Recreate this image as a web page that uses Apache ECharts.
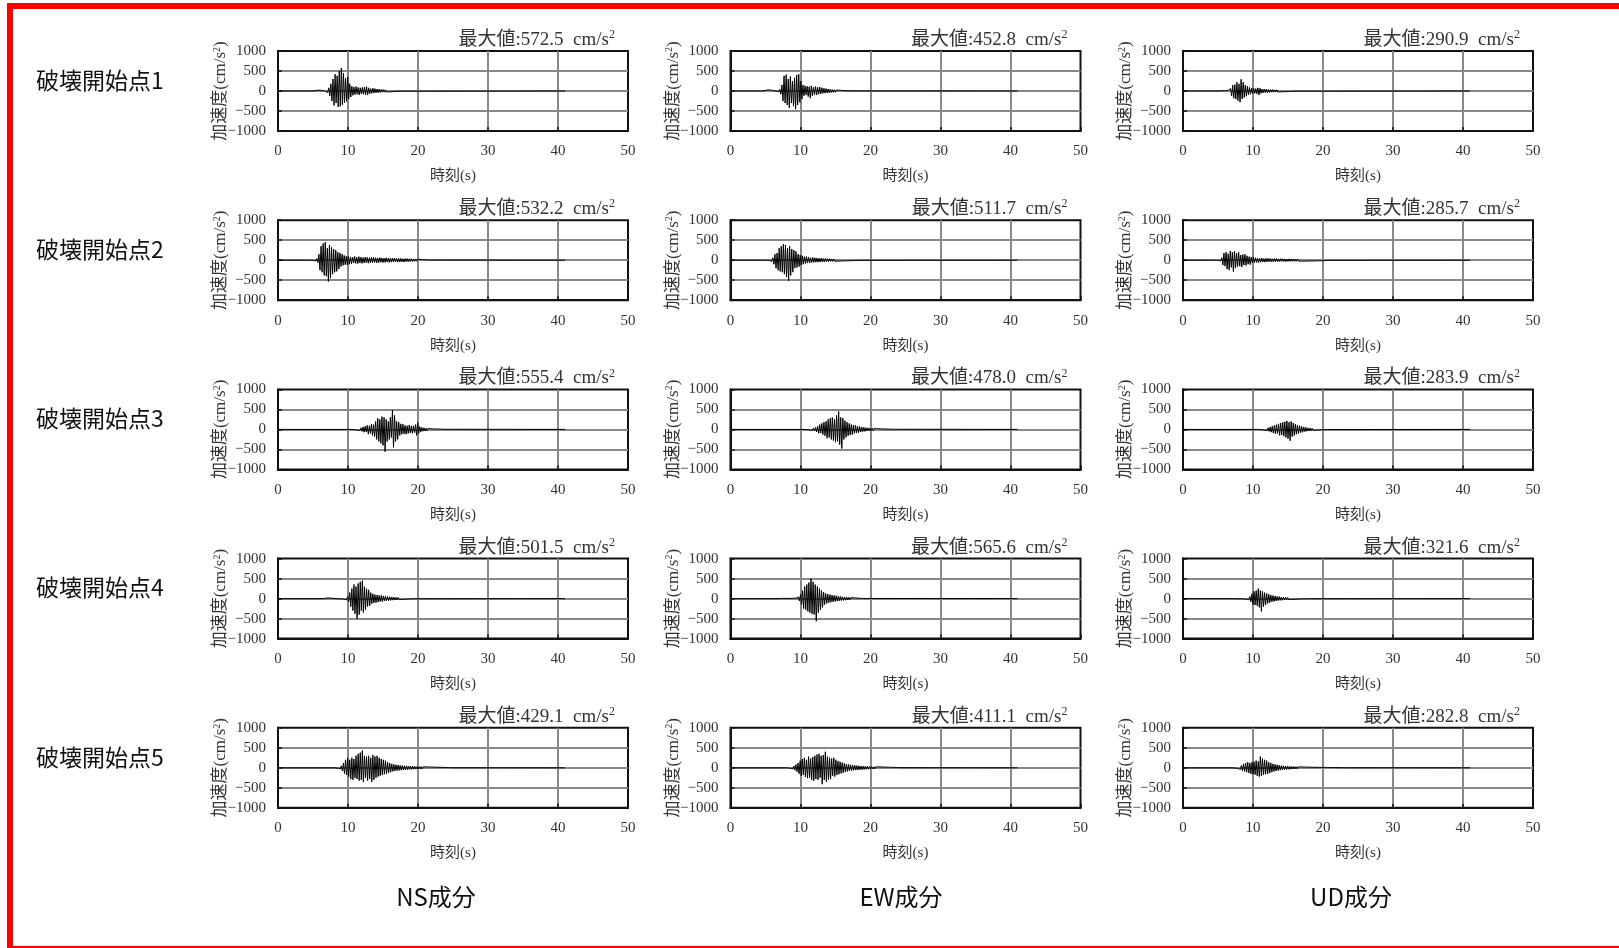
<!DOCTYPE html>
<html lang="ja">
<head>
<meta charset="utf-8">
<title>加速度時刻歴波形</title>
<script src="https://cdn.jsdelivr.net/npm/echarts@6.0.0/dist/echarts.min.js"></script>
<style>
html, body { margin: 0; padding: 0; background: #ffffff; }
#mains { width: 1619px; height: 948px; }
</style>
</head>
<body>
<div id="mains"></div>
<script>
// 波形の読み取り値（0.15s間隔、開始時刻は *Start）
const DT = 0.15;
const RECORD_END = 41;

const rowLabels = ["破壊開始点1", "破壊開始点2", "破壊開始点3", "破壊開始点4", "破壊開始点5"];
const colLabels = ["NS成分", "EW成分", "UD成分"];

const nsPeak = ["572.5", "532.2", "555.4", "501.5", "429.1"];
const ewPeak = ["452.8", "511.7", "478.0", "565.6", "411.1"];
const udPeak = ["290.9", "285.7", "283.9", "321.6", "282.8"];

const nsStart = [5.0, 4.5, 10.5, 6.5, 8.0];
const ewStart = [4.5, 5.0, 10.5, 7.0, 8.0];
const udStart = [5.0, 4.5, 10.5, 7.0, 7.0];

// 破壊開始点1
const ns1 = [0, 5, 10, 15, 20, 25, 20, 25, 15, 20, 10, 15, -10, 30, -40, 80, -120, 180, -250, 300,
  -360, 420, -300, 380, -400, 500, -380, 572.5, -340, 450, -300, 320, -260, 350, -200, 180, -150, 120, -110, 100,
  -90, 110, -80, 90, -100, 80, -70, 90, -80, 100, -90, 110, -100, 80, -70, 60, -60, 70, -50, 60,
  -45, 50, -40, 45, -35, 40, -30, 35, -30, 30, -25, 25, -20, 25, -20, 20, -15, 15, -10, 10,
  -8, 8, -5, 5];
const ew1 = [0, 5, 10, 15, 20, 25, 30, 30, 25, 20, 15, 10, 5, 0, -5, 10, -20, 40, -80, 150,
  -250, 380, -300, 410, -350, 300, -420, 360, -300, 250, -380, 330, -452.8, 400, -350, 420, -280, 250, -200, 150,
  -120, 130, -100, 120, -140, 110, -180, 130, -120, 100, -90, 110, -100, 90, -80, 100, -70, 80, -60, 70,
  -55, 60, -50, 50, -45, 45, -40, 35, -35, 30, -30, 25, -25, 20, -20, 15, -15, 12, -10, 8,
  -5, 3];
const ud1 = [0, 3, 5, 5, 8, 5, 8, 5, 10, -10, 20, -30, 60, -120, 150, -180, 160, -200, 220, -240,
  180, -280, 290.9, -200, 220, -160, 150, -130, 120, -100, 90, -80, 70, -60, 70, -60, 60, -70, 80, -100,
  70, -60, 50, -45, 50, -40, 45, -40, 35, -35, 40, -30, 35, -30, 30, -25, 30, -25, 25, -20,
  20, -20, 18, -15, 15, -15, 12, -12, 10, -10, 10, -8, 8, -6, 5, -5, 3];

// 破壊開始点2
const ns2 = [0, 5, -5, 10, -10, 15, -20, 40, -60, 150, -250, 350, -300, 420, -380, 450, -400, 300, -532.2, 380,
  -450, 320, -350, 280, -300, 250, -280, 200, -220, 180, -160, 150, -130, 120, -110, 100, -120, 90, -100, 80,
  -90, 80, -70, 95, -80, 70, -85, 90, -70, 75, -80, 65, -70, 80, -60, 70, -75, 60, -65, 70,
  -60, 75, -55, 60, -65, 55, -60, 65, -50, 55, -60, 50, -55, 60, -45, 50, -55, 45, -50, 55,
  -45, 50, -40, 45, -50, 40, -45, 45, -40, 35, -45, 40, -35, 40, -38, 35, -30, 35, -32, 30,
  -30, 28, -25, 28, -22, 20, -20, 18, -15, 15, -12, 10, -8, 6, -4, 3];
const ew2 = [0, 5, -5, 10, -10, 20, -30, 60, -100, 150, -200, 180, -250, 300, -280, 350, -300, 400, -350, 380,
  -420, 300, -511.7, 350, -380, 280, -300, 250, -200, 220, -180, 150, -160, 130, -120, 110, -100, 90, -80, 90,
  -70, 80, -70, 60, -60, 70, -55, 60, -50, 55, -50, 45, -45, 50, -40, 40, -40, 45, -35, 35,
  -35, 35, -30, 30, -30, 30, -25, 25, -25, 25, -20, 20, -20, 20, -18, 18, -15, 15, -15, 12,
  -12, 12, -10, 10, -10, 8, -8, 8, -6, 6, -5, 5, -4, 4, -3, 3];
const ud2 = [0, 3, -3, 5, -5, 10, -20, 60, -120, 180, -150, 200, -220, 160, -250, 230, -180, 200, -285.7, 220,
  -200, 180, -160, 200, -150, 130, -170, 140, -120, 150, -130, 110, -100, 90, -110, 80, -70, 70, -60, 60,
  -55, 50, -60, 45, -50, 55, -45, 40, -50, 45, -40, 45, -38, 42, -40, 35, -38, 40, -35, 38,
  -36, 32, -35, 38, -30, 34, -32, 30, -35, 28, -30, 32, -28, 30, -26, 28, -30, 25, -26, 28,
  -24, 26, -25, 22, -24, 25, -22, 20, -22, 24, -20, 22, -18, 20, -19, 18, -17, 18, -16, 15,
  -15, 14, -13, 12, -12, 10, -9, 8, -6, 5, -3, 2];

// 破壊開始点3
const ns3 = [0, 5, -5, 8, -10, 15, -20, 30, -25, 40, -50, 60, -70, 80, -60, 100, -120, 90, -100, 130,
  -150, 120, -180, 200, -250, 280, -300, 250, -350, 320, -400, 300, -555.4, 250, -300, 200, -250, 300, -200, 480,
  -450, 350, -300, 200, -250, 180, -150, 140, -120, 130, -110, 100, -120, 90, -100, 110, -90, 80, -100, 90,
  -80, 120, -150, 170, -100, 70, -60, 50, -45, 40, -35, 30, -28, 25, -22, 20, -18, 15, -15, 12,
  -12, 10, -10, 8, -8, 6, -5, 5, -4, 3];
const ew3 = [0, 5, -5, 8, -8, 12, -15, 20, -25, 30, -40, 50, -60, 80, -100, 120, -90, 150, -130, 180,
  -160, 200, -220, 250, -200, 280, -250, 300, -280, 250, -320, 350, -300, 450, -380, 300, -478, 280, -250, 220,
  -200, 180, -160, 150, -140, 120, -130, 110, -100, 100, -90, 80, -80, 70, -65, 60, -55, 50, -50, 45,
  -40, 40, -35, 35, -30, 30, -28, 25, -22, 22, -20, 18, -16, 15, -14, 12, -12, 10, -10, 8,
  -8, 7, -6, 5, -5, 4, -3, 3];
const ud3 = [0, 3, -3, 5, -5, 8, -10, 15, -20, 25, -30, 40, -50, 60, -70, 80, -90, 100, -110, 120,
  -100, 140, -150, 160, -140, 180, -170, 190, -200, 210, -230, 180, -283.9, 200, -180, 160, -150, 130, -120, 110,
  -100, 90, -80, 75, -70, 60, -55, 50, -45, 40, -38, 35, -30, 28, -25, 22, -20, 18, -16, 15,
  -12, 10, -10, 8, -7, 6, -5, 4, -3, 2];

// 破壊開始点4
const ns4 = [0, 5, 10, 15, 20, 25, 15, 25, 10, 15, 5, 8, 0, 5, -5, 5, -5, 8, -8, 10,
  -15, 20, -30, 50, -80, 150, -200, 250, -300, 350, -380, 300, -501.5, 380, -400, 420, -300, 450, -350, 300,
  -280, 250, -200, 220, -180, 150, -130, 120, -110, 100, -100, 90, -85, 80, -75, 80, -70, 65, -60, 60,
  -55, 50, -50, 45, -45, 40, -40, 35, -35, 30, -30, 28, -25, 22, -20, 20, -18, 15, -15, 12,
  -12, 10, -8, 8, -6, 5, -4, 3];
const ew4 = [0, 3, 5, 5, 8, 5, 5, 3, 5, -3, 5, -5, 5, -8, 10, -12, 15, -25, 40, -60,
  100, -150, 200, -250, 300, -280, 350, -320, 400, -350, 500, -380, 420, -400, 350, -565.6, 300, -350, 250, -280,
  200, -220, 160, -150, 130, -120, 110, -100, 100, -90, 85, -80, 80, -70, 70, -65, 60, -55, 55, -50,
  45, -45, 40, -40, 35, -32, 30, -28, 25, -22, 20, -18, 16, -14, 12, -10, 10, -8, 7, -6,
  5, -4, 3];
const ud4 = [0, 3, -3, 5, -5, 5, -5, 5, -5, 8, -8, 10, -10, 12, -15, 20, -30, 50, -80, 120,
  -150, 180, -160, 200, -180, 250, -220, 200, -321.6, 180, -200, 150, -160, 130, -120, 110, -100, 90, -80, 75,
  -70, 65, -60, 55, -50, 50, -45, 40, -40, 35, -35, 30, -30, 28, -25, 22, -20, 20, -18, 16,
  -15, 14, -12, 12, -10, 10, -8, 8, -7, 6, -5, 5, -4, 3, -3, 2];

// 破壊開始点5
const ns5 = [0, 5, -5, 10, -10, 20, -30, 50, -80, 120, -150, 200, -180, 250, -220, 200, -280, 250, -300, 220,
  -250, 300, -280, 350, -320, 380, -300, 429.1, -350, 300, -250, 280, -320, 300, -280, 250, -350, 320, -300, 280,
  -250, 300, -220, 250, -200, 220, -180, 200, -160, 180, -150, 140, -130, 120, -110, 100, -90, 85, -80, 75,
  -70, 70, -65, 60, -60, 55, -55, 50, -50, 48, -45, 45, -42, 40, -40, 38, -35, 35, -33, 32,
  -30, 30, -28, 28, -26, 25, -25, 24, -22, 22, -20, 20, -20, 18, -18, 17, -16, 15, -15, 14,
  -13, 12, -12, 11, -10, 10, -8, 8, -6, 6, -5, 4, -3, 2];
const ew5 = [0, 3, -5, 8, -12, 20, -30, 45, -60, 80, -100, 120, -150, 180, -200, 220, -180, 250, -230, 200,
  -260, 280, -250, 230, -300, 270, -320, 300, -280, 330, -300, 350, -250, 300, -411.1, 320, -300, 400, -350, 280,
  -300, 250, -280, 230, -200, 250, -220, 200, -180, 170, -160, 150, -140, 130, -120, 110, -100, 95, -90, 85,
  -80, 75, -70, 68, -65, 60, -58, 55, -52, 50, -48, 45, -44, 42, -40, 38, -36, 35, -34, 32,
  -30, 30, -28, 27, -26, 25, -24, 23, -22, 21, -20, 20, -18, 18, -17, 16, -15, 15, -14, 13,
  -12, 12, -11, 10, -9, 8, -7, 6, -5, 5, -4, 3, -2];
const ud5 = [0, 3, -5, 8, -10, 15, -20, 30, -40, 60, -80, 100, -90, 120, -110, 140, -130, 120, -150, 140,
  -160, 150, -170, 180, -200, 160, -220, 282.8, -200, 230, -180, 200, -160, 180, -150, 140, -130, 120, -110, 100,
  -90, 85, -80, 75, -70, 65, -60, 55, -50, 50, -48, 45, -42, 40, -38, 36, -34, 32, -30, 30,
  -28, 27, -26, 25, -24, 23, -22, 21, -20, 20, -19, 18, -17, 17, -16, 15, -15, 14, -14, 13,
  -12, 12, -12, 11, -11, 10, -10, 10, -9, 9, -8, 8, -8, 7, -7, 7, -6, 6, -6, 5,
  -5, 5, -4, 4, -4, 3, -3, 3, -2, 2];

const components = [
  { peak: nsPeak, start: nsStart, waves: [ns1, ns2, ns3, ns4, ns5] },
  { peak: ewPeak, start: ewStart, waves: [ew1, ew2, ew3, ew4, ew5] },
  { peak: udPeak, start: udStart, waves: [ud1, ud2, ud3, ud4, ud5] },
];

const SERIF = '"Liberation Serif", "Noto Sans CJK JP", serif';
const SANS = '"Noto Sans CJK JP", "Noto Sans", sans-serif';

// レイアウト（px）
const PLOT_LEFT = 278;
const COL_STEP = 452.5;
const PLOT_TOP = 51;
const ROW_STEP = 169.2;
const PLOT_W = 350;
const PLOT_H = 80;

function toSeries(t0, values) {
  const data = [[0, 0]];
  values.forEach((v, i) => data.push([+(t0 + i * DT).toFixed(2), v]));
  data.push([RECORD_END, 0]);
  return data;
}

const grids = [], xAxes = [], yAxes = [], series = [];
const graphic = [
  { type: "rect", shape: { x: 7, y: 3, width: 1612, height: 6 }, style: { fill: "#ff0000" } },
  { type: "rect", shape: { x: 7, y: 3, width: 6, height: 945 }, style: { fill: "#ff0000" } },
  { type: "rect", shape: { x: 7, y: 946, width: 1612, height: 2 }, style: { fill: "#ff0000" } },
];

for (let r = 0; r < 5; r++) {
  graphic.push({
    type: "text",
    x: 36, y: PLOT_TOP + r * ROW_STEP + 29,
    style: { text: rowLabels[r], fill: "#111", font: "23px " + SANS, textVerticalAlign: "middle", verticalAlign: "middle" }
  });
  for (let c = 0; c < 3; c++) {
    const idx = grids.length;
    const left = PLOT_LEFT + c * COL_STEP;
    const top = PLOT_TOP + r * ROW_STEP;
    grids.push({
      left: left, top: top, width: PLOT_W, height: PLOT_H,
      show: true, borderColor: "#111", borderWidth: 2, backgroundColor: "transparent"
    });
    xAxes.push({
      gridIndex: idx, type: "value", min: 0, max: 50, interval: 10,
      name: "時刻(s)", nameLocation: "middle", nameGap: 38, nameMoveOverlap: false,
      nameTextStyle: { fontFamily: SERIF, fontSize: 15, color: "#333" },
      axisLine: { show: true, onZero: false, lineStyle: { color: "#111", width: 2 } },
      axisTick: { show: true, inside: true, length: 4, lineStyle: { color: "#111", width: 1.5 } },
      axisLabel: { fontFamily: SERIF, fontSize: 15, color: "#333", margin: 13 },
      splitLine: { show: true, showMinLine: false, showMaxLine: false, lineStyle: { color: "#888", width: 2 } }
    });
    yAxes.push({
      gridIndex: idx, type: "value", min: -1000, max: 1000, interval: 500,
      name: "加速度(cm/s{sup|2})", nameLocation: "middle", nameGap: 48, nameRotate: 90, nameMoveOverlap: false,
      nameTextStyle: {
        fontFamily: SERIF, fontSize: 17, color: "#333",
        rich: { sup: { fontFamily: SERIF, fontSize: 10, color: "#333", padding: [0, 0, 8, 0] } }
      },
      axisLine: { show: true, onZero: false, lineStyle: { color: "#111", width: 2 } },
      axisTick: { show: true, inside: true, length: 4, lineStyle: { color: "#111", width: 1.5 } },
      axisLabel: {
        fontFamily: SERIF, fontSize: 15, color: "#333", margin: 12,
        formatter: (v) => String(v).replace("-", "\u2212")
      },
      splitLine: { show: true, showMinLine: false, showMaxLine: false, lineStyle: { color: "#888", width: 2 } }
    });
    series.push({
      type: "line", xAxisIndex: idx, yAxisIndex: idx,
      data: toSeries(components[c].start[r], components[c].waves[r]),
      symbol: "none", silent: true, sampling: null,
      lineStyle: { color: "#000", width: 1 }
    });
    graphic.push({
      type: "text",
      x: left + PLOT_W - 13, y: top - 11,
      style: {
        text: "最大値:" + components[c].peak[r] + "  cm/s{sup|2}",
        fill: "#333", font: "19px " + SERIF,
        textAlign: "right", align: "right", textVerticalAlign: "middle", verticalAlign: "middle",
        rich: { sup: { fontFamily: SERIF, fontSize: 12, fill: "#333", padding: [0, 0, 10, 0] } }
      }
    });
  }
}

const colCenters = [436, 901, 1351];
colLabels.forEach((label, c) => {
  graphic.push({
    type: "text",
    x: colCenters[c], y: 897,
    style: { text: label, fill: "#111", font: "24px " + SANS, textAlign: "center", align: "center", textVerticalAlign: "middle", verticalAlign: "middle" }
  });
});

const chartInstance = echarts.init(document.getElementById("mains"));
chartInstance.setOption({
  animation: false,
  backgroundColor: "#ffffff",
  grid: grids,
  xAxis: xAxes,
  yAxis: yAxes,
  series: series,
  graphic: graphic
});
</script>
</body>
</html>
